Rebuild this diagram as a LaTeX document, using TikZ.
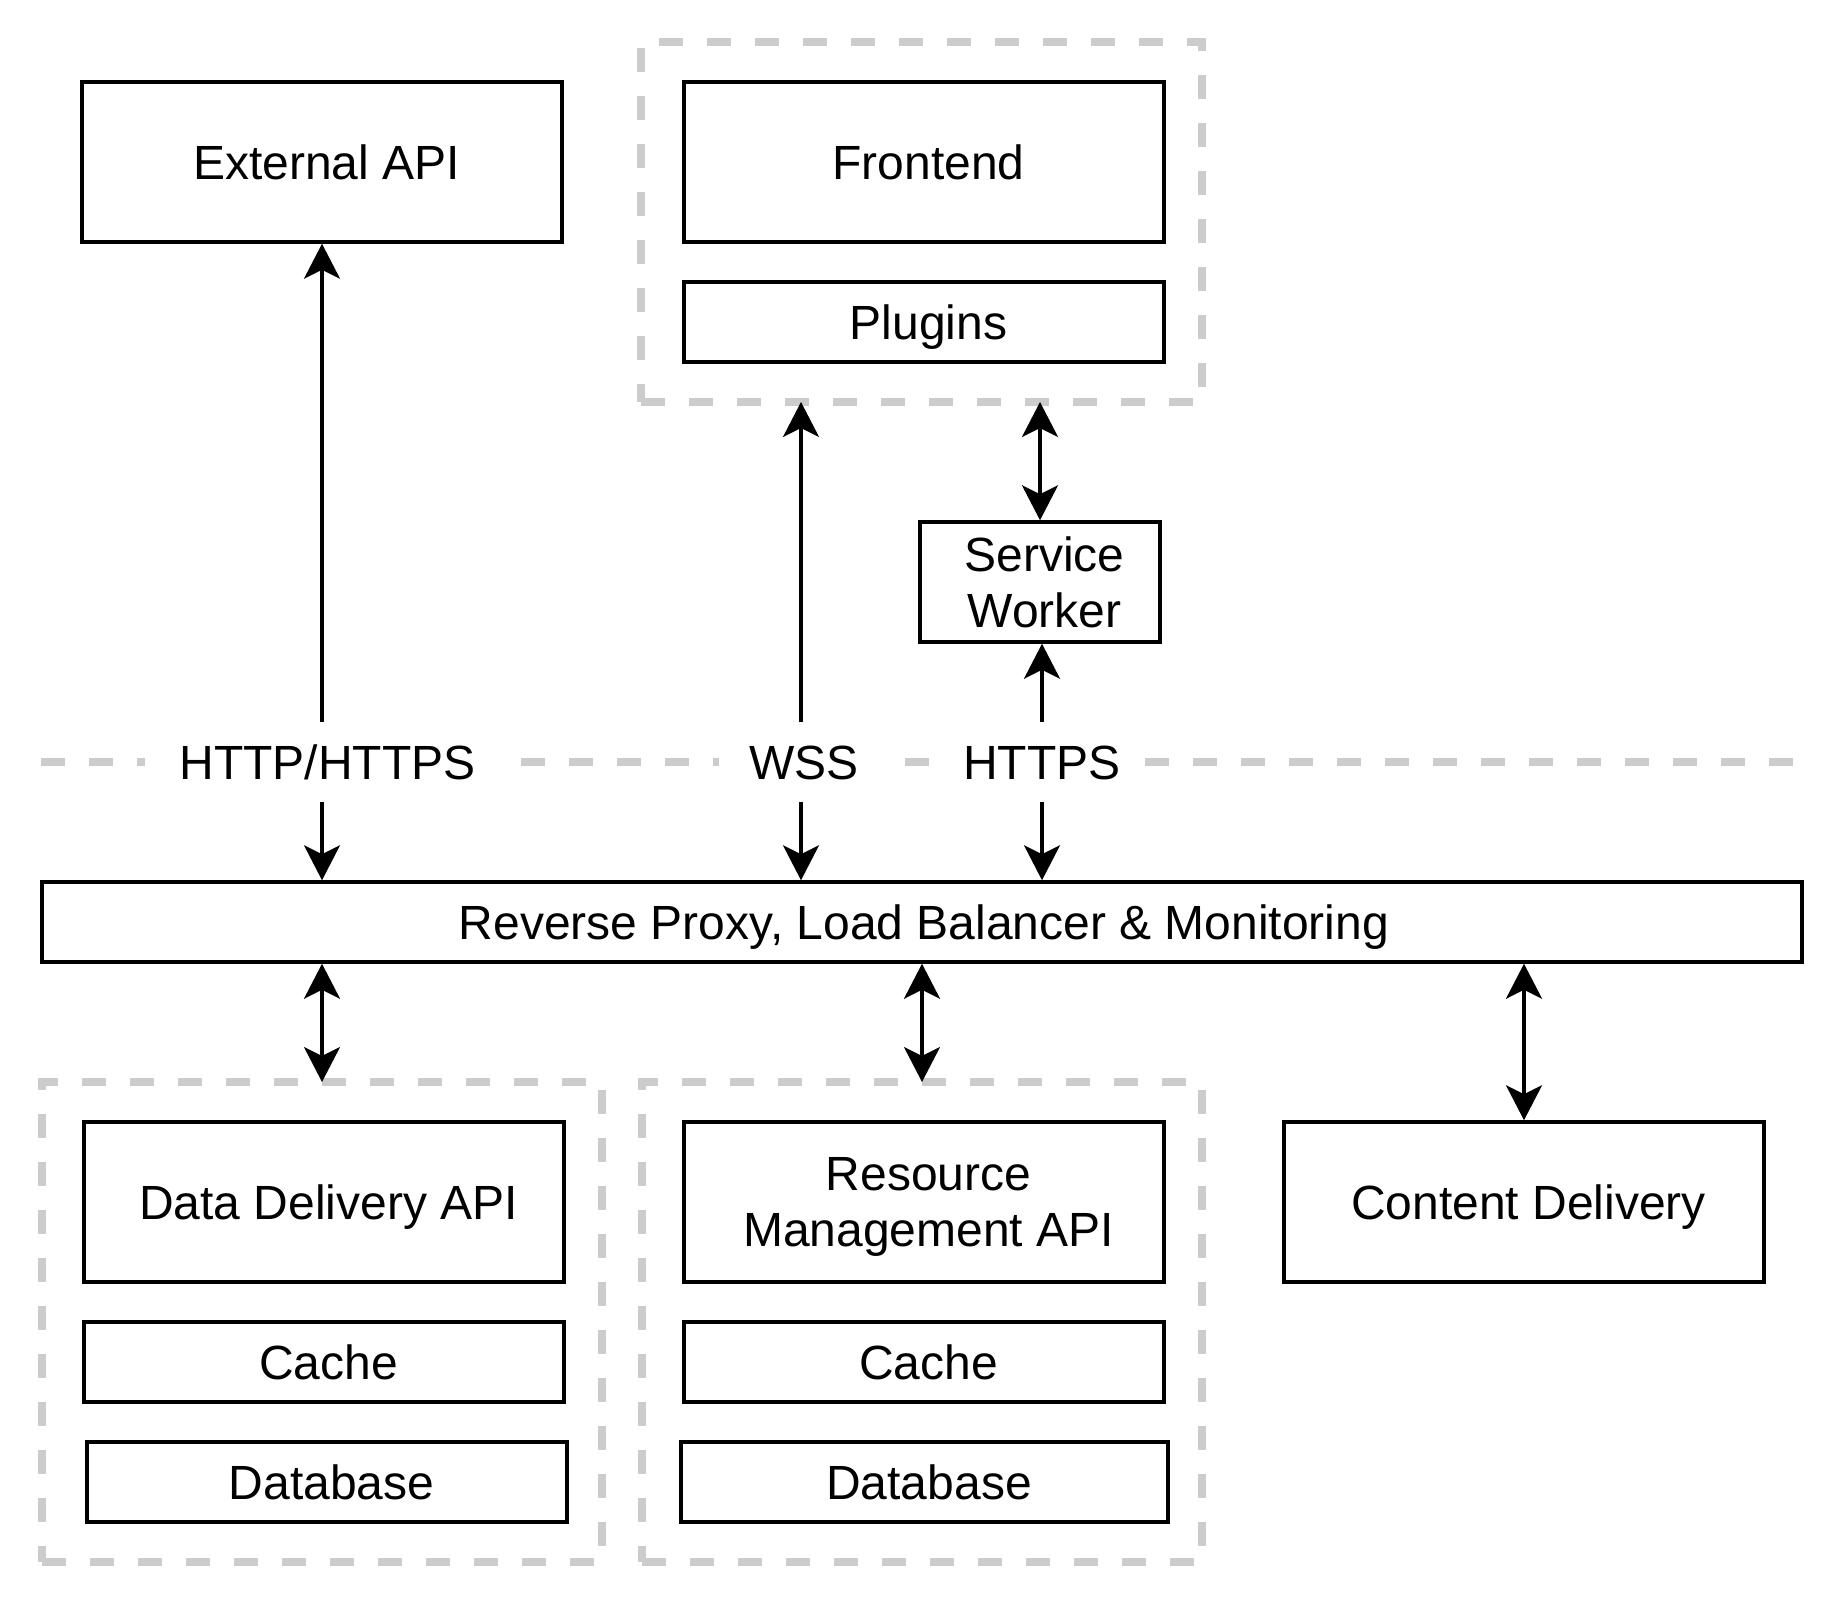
\documentclass[tikz,border=0pt]{standalone}
\usepackage{fontspec}
\setmainfont{Liberation Sans}
\usetikzlibrary{arrows.meta}
\definecolor{grpgray}{HTML}{CCCCCC}
\begin{document}
\begin{tikzpicture}[x=1pt,y=1pt,
  >={Stealth[length=35pt,width=36pt,inset=9pt]},
  box/.style={draw=black, line width=3.5pt, fill=white, minimum width=480pt, inner sep=0pt,
    font=\fontsize{48}{56}\selectfont, align=center},
  onel/.style={text height=34.4pt, text depth=0pt},
  grp/.style={draw=grpgray, line width=8pt, dash pattern=on 24pt off 24pt, inner sep=0pt, outer sep=0pt},
  sepline/.style={draw=grpgray, line width=8pt, dash pattern=on 24pt off 24pt},
  lbl/.style={fill=white, inner xsep=24pt, inner ysep=22.8pt, outer sep=0pt,
    text height=34.4pt, text depth=0pt, font=\fontsize{48}{56}\selectfont},
  conn/.style={draw=black, line width=3.5pt},
]
\newcommand{\sh}{\hspace*{9pt}}
\fill[white] (0,0) rectangle (1848,-1608);
\useasboundingbox (0,0) rectangle (1848,-1608);

% groups
\node[grp, minimum width=561pt, minimum height=360pt] (gtop) at (921.5,-222) {};
\node[grp, minimum width=560pt, minimum height=480pt] (gl) at (322,-1322) {};
\node[grp, minimum width=560pt, minimum height=480pt] (gm) at (922,-1322) {};

% separator line
\coordinate (sl) at (41,-762);
\coordinate (sr) at (1801,-762);
\draw[sepline] (sl) -- (sr);

% boxes
\node[box, onel, minimum height=160pt] (ext) at (322,-162) {\sh External API};
\node[box, onel, minimum height=160pt] (front) at (924,-162) {\sh Frontend};
\node[box, onel, minimum height=80pt] (plug) at (924,-322) {\sh Plugins};
\node[box, minimum width=240pt, minimum height=120pt] (sw) at (1040,-582) {\sh Service\\\sh Worker};
\node[box, onel, minimum width=1760pt, minimum height=80pt] (rp) at (922,-922) {\hspace*{4pt}Reverse Proxy, Load Balancer \& Monitoring};
\node[box, onel, minimum height=160pt] (dd) at (324,-1202) {\sh Data Delivery API};
\node[box, onel, minimum height=80pt] (cl) at (324,-1362) {\sh Cache};
\node[box, onel, minimum height=80pt] (dbl) at (327,-1482) {\sh Database};
\node[box, minimum height=160pt] (rm) at (924,-1202) {\sh Resource\\\sh\raisebox{0pt}[\height][0pt]{Management API}};
\node[box, onel, minimum height=80pt] (cm) at (924,-1362) {\sh Cache};
\node[box, onel, minimum width=487pt, minimum height=80pt] (dbm) at (924.5,-1482) {\sh Database};
\node[box, onel, minimum height=160pt] (cd) at (1524,-1202) {\sh Content Delivery};

% labels on the separator
\node[lbl] (lhttp) at (322,-762) {\hspace*{11pt}HTTP/HTTPS};
\node[lbl] (lwss) at (801,-762) {\hspace*{6pt}WSS};
\node[lbl] (lhttps) at (1042,-762) {HTTPS};
\coordinate (wssx) at (801,-762);

% connectors
\draw[conn,->] (lhttp.north -| ext.south) -- (ext.south);
\draw[conn,->] (lhttp.south -| ext.south) -- (ext.south |- rp.north);
\draw[conn,->] (lwss.north -| wssx) -- (wssx |- gtop.south);
\draw[conn,->] (lwss.south -| wssx) -- (wssx |- rp.north);
\draw[conn,->] (lhttps.north) -- (lhttps.north |- sw.south);
\draw[conn,->] (lhttps.south) -- (lhttps.south |- rp.north);
\draw[conn,<->] (sw.north) -- (sw.north |- gtop.south);
\draw[conn,<->] (rp.south -| gl.north) -- (gl.north);
\draw[conn,<->] (rp.south -| gm.north) -- (gm.north);
\draw[conn,<->] (rp.south -| cd.north) -- (cd.north);
\end{tikzpicture}
\end{document}
